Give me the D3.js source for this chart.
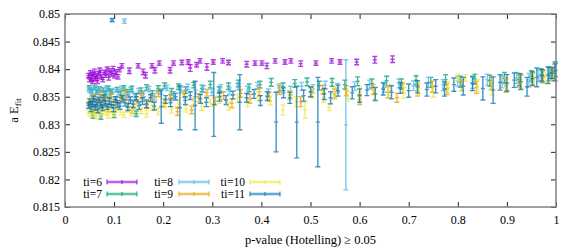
<!DOCTYPE html>
<html lang="en">
<head>
<meta charset="UTF-8">
<title>a E_fit vs p-value</title>
<script src="https://cdnjs.cloudflare.com/ajax/libs/d3/7.8.5/d3.min.js"></script>
<style>
  body { margin: 0; background: #fff; }
  svg text { font-family: "Liberation Serif", "DejaVu Serif", serif; }
</style>
</head>
<body>
<svg id="graph" width="575" height="250"></svg>
<script>
// ---- data: [p-value, a E_fit, error] ----
var seriesNames  = ["ti=6", "ti=7", "ti=8", "ti=9", "ti=10", "ti=11"];
var seriesColors = ["#9400d3", "#009e73", "#56b4e9", "#e69f00", "#f0e442", "#0072b2"];

var ti6 = [
  [0.048,0.8388,0.0004],[0.050,0.8381,0.0004],[0.052,0.8393,0.0004],[0.054,0.8384,0.0005],[0.056,0.8378,0.0004],
  [0.058,0.8390,0.0004],[0.060,0.8396,0.0004],[0.062,0.8383,0.0004],[0.064,0.8387,0.0004],[0.066,0.8379,0.0005],
  [0.069,0.8392,0.0004],[0.071,0.8398,0.0004],[0.074,0.8386,0.0004],[0.077,0.8381,0.0004],[0.080,0.8394,0.0004],
  [0.083,0.8389,0.0004],[0.086,0.8400,0.0004],[0.089,0.8385,0.0005],[0.092,0.8397,0.0004],[0.095,0.8391,0.0004],
  [0.098,0.8401,0.0004],[0.101,0.8388,0.0004],[0.104,0.8395,0.0004],[0.108,0.8386,0.0004],[0.111,0.8399,0.0004],
  [0.116,0.8406,0.0004],[0.131,0.8397,0.0005],[0.149,0.8406,0.0004],[0.159,0.8395,0.0005],[0.164,0.8389,0.0005],
  [0.177,0.8406,0.0004],[0.183,0.8398,0.0005],[0.192,0.8411,0.0004],[0.214,0.8398,0.0005],[0.221,0.8411,0.0004],
  [0.238,0.8412,0.0004],[0.251,0.8413,0.0004],[0.255,0.8402,0.0006],[0.268,0.8408,0.0004],[0.275,0.8415,0.0004],
  [0.289,0.8404,0.0006],[0.302,0.8413,0.0004],[0.321,0.8415,0.0004],[0.333,0.8412,0.0004],[0.370,0.8409,0.0005],
  [0.387,0.8411,0.0004],[0.401,0.8411,0.0004],[0.411,0.8406,0.0005],[0.428,0.8415,0.0004],[0.448,0.8413,0.0004],
  [0.460,0.8415,0.0004],[0.480,0.8410,0.0005],[0.511,0.8411,0.0004],[0.543,0.8415,0.0004],[0.560,0.8413,0.0004],
  [0.594,0.8413,0.0005],[0.631,0.8417,0.0006],[0.667,0.8418,0.0006]
];

var ti7 = [
  [0.049,0.8366,0.0004],[0.053,0.8361,0.0004],[0.057,0.8316,0.0005],[0.061,0.8367,0.0004],[0.065,0.8358,0.0004],
  [0.069,0.8364,0.0004],[0.073,0.8314,0.0005],[0.078,0.8362,0.0004],[0.083,0.8355,0.0005],[0.088,0.8365,0.0004],
  [0.094,0.8359,0.0004],[0.100,0.8317,0.0005],[0.106,0.8363,0.0004],[0.113,0.8354,0.0005],[0.120,0.8366,0.0004],
  [0.128,0.8358,0.0005],[0.136,0.8364,0.0005],[0.145,0.8319,0.0005],[0.155,0.8361,0.0005],[0.166,0.8367,0.0005],
  [0.178,0.8356,0.0005],[0.190,0.8365,0.0005],[0.203,0.8370,0.0005],[0.217,0.8359,0.0006],[0.231,0.8368,0.0005],
  [0.246,0.8362,0.0006],[0.262,0.8371,0.0005],[0.279,0.8365,0.0006],[0.296,0.8372,0.0006],[0.314,0.8362,0.0006],
  [0.333,0.8369,0.0006],[0.353,0.8374,0.0006],[0.375,0.8366,0.0007],[0.397,0.8372,0.0006],[0.420,0.8376,0.0007],
  [0.444,0.8368,0.0007],[0.468,0.8374,0.0007],[0.493,0.8377,0.0007],[0.518,0.8370,0.0008],[0.544,0.8376,0.0007],
  [0.570,0.8372,0.0008],[0.596,0.8378,0.0008],[0.625,0.8374,0.0008],[0.655,0.8379,0.0008],[0.685,0.8373,0.0009],
  [0.715,0.8380,0.0008],[0.745,0.8376,0.0009],[0.775,0.8381,0.0009],[0.805,0.8377,0.0010],[0.835,0.8382,0.0009],
  [0.865,0.8379,0.0010],[0.895,0.8384,0.0010],[0.925,0.8381,0.0011],[0.950,0.8387,0.0010],[0.970,0.8390,0.0011],
  [0.988,0.8393,0.0010],[0.999,0.8398,0.0012]
];

var ti8 = [
  [0.050,0.8362,0.0004],[0.054,0.8355,0.0004],[0.058,0.8366,0.0004],[0.062,0.8350,0.0005],[0.066,0.8359,0.0004],
  [0.071,0.8364,0.0004],[0.075,0.8348,0.0005],[0.080,0.8357,0.0004],[0.085,0.8366,0.0004],[0.091,0.8352,0.0005],
  [0.097,0.8361,0.0004],[0.103,0.8345,0.0005],[0.109,0.8358,0.0005],[0.115,0.8365,0.0004],[0.121,0.8487,0.0004],
  [0.127,0.8353,0.0005],[0.134,0.8362,0.0005],[0.142,0.8349,0.0005],[0.150,0.8360,0.0005],[0.160,0.8355,0.0005],
  [0.171,0.8364,0.0005],[0.183,0.8350,0.0006],[0.195,0.8359,0.0005],[0.208,0.8366,0.0005],[0.221,0.8353,0.0006],
  [0.236,0.8362,0.0005],[0.250,0.8368,0.0005],[0.266,0.8356,0.0006],[0.282,0.8364,0.0006],[0.299,0.8358,0.0006],
  [0.317,0.8366,0.0006],[0.335,0.8360,0.0006],[0.352,0.8368,0.0006],[0.372,0.8362,0.0007],[0.392,0.8370,0.0006],
  [0.414,0.8357,0.0007],[0.436,0.8366,0.0007],[0.459,0.8361,0.0008],[0.482,0.8369,0.0007],[0.505,0.8364,0.0008],
  [0.530,0.8371,0.0007],[0.555,0.8366,0.0008],[0.572,0.8299,0.0118],[0.590,0.8369,0.0008],[0.620,0.8372,0.0008],
  [0.650,0.8367,0.0009],[0.680,0.8374,0.0008],[0.710,0.8370,0.0009],[0.740,0.8376,0.0009],[0.770,0.8371,0.0010],
  [0.800,0.8378,0.0009],[0.830,0.8375,0.0010],[0.860,0.8381,0.0010],[0.890,0.8377,0.0011],[0.920,0.8384,0.0010],
  [0.945,0.8380,0.0012],[0.965,0.8388,0.0011],[0.985,0.8391,0.0012],[0.997,0.8399,0.0010]
];

var ti9 = [
  [0.049,0.8342,0.0005],[0.053,0.8335,0.0005],[0.057,0.8348,0.0005],[0.062,0.8330,0.0005],[0.067,0.8343,0.0005],
  [0.072,0.8353,0.0005],[0.077,0.8336,0.0005],[0.082,0.8346,0.0005],[0.088,0.8329,0.0006],[0.094,0.8350,0.0005],
  [0.100,0.8340,0.0005],[0.107,0.8333,0.0006],[0.114,0.8347,0.0005],[0.121,0.8355,0.0005],[0.129,0.8338,0.0006],
  [0.137,0.8326,0.0006],[0.146,0.8344,0.0006],[0.156,0.8352,0.0006],[0.167,0.8335,0.0006],[0.178,0.8346,0.0006],
  [0.190,0.8356,0.0006],[0.202,0.8339,0.0007],[0.215,0.8349,0.0006],[0.229,0.8323,0.0007],[0.243,0.8354,0.0006],
  [0.258,0.8326,0.0007],[0.273,0.8348,0.0007],[0.289,0.8357,0.0006],[0.306,0.8342,0.0007],[0.323,0.8352,0.0007],
  [0.340,0.8338,0.0008],[0.358,0.8356,0.0007],[0.377,0.8346,0.0008],[0.396,0.8359,0.0007],[0.416,0.8350,0.0008],
  [0.437,0.8362,0.0008],[0.458,0.8353,0.0008],[0.480,0.8341,0.0009],[0.502,0.8358,0.0008],[0.525,0.8363,0.0008],
  [0.549,0.8355,0.0009],[0.573,0.8361,0.0009],[0.600,0.8345,0.0009],[0.628,0.8363,0.0009],[0.658,0.8358,0.0010],
  [0.676,0.8348,0.0008],[0.688,0.8366,0.0009],[0.718,0.8361,0.0010],[0.748,0.8368,0.0010],[0.778,0.8364,0.0010],
  [0.808,0.8371,0.0010],[0.838,0.8367,0.0011],[0.868,0.8374,0.0011],[0.898,0.8370,0.0012],[0.926,0.8378,0.0011],
  [0.952,0.8382,0.0012],[0.974,0.8386,0.0011],[0.991,0.8391,0.0012]
];

var ti10 = [
  [0.048,0.8322,0.0004],[0.052,0.8318,0.0004],[0.056,0.8326,0.0004],[0.060,0.8320,0.0004],[0.064,0.8315,0.0005],
  [0.068,0.8324,0.0004],[0.073,0.8319,0.0004],[0.078,0.8328,0.0004],[0.083,0.8321,0.0004],[0.088,0.8316,0.0005],
  [0.094,0.8325,0.0004],[0.100,0.8320,0.0005],[0.106,0.8330,0.0004],[0.113,0.8322,0.0005],[0.120,0.8317,0.0005],
  [0.128,0.8327,0.0005],[0.136,0.8321,0.0005],[0.145,0.8332,0.0005],[0.155,0.8324,0.0005],[0.166,0.8319,0.0006],
  [0.178,0.8330,0.0005],[0.190,0.8323,0.0006],[0.203,0.8335,0.0005],[0.217,0.8326,0.0006],[0.231,0.8338,0.0006],
  [0.246,0.8328,0.0006],[0.262,0.8342,0.0006],[0.279,0.8332,0.0007],[0.296,0.8339,0.0007],[0.314,0.8345,0.0007],
  [0.333,0.8333,0.0007],[0.352,0.8347,0.0007],[0.372,0.8340,0.0008],[0.394,0.8350,0.0008],[0.418,0.8343,0.0008],
  [0.444,0.8326,0.0009],[0.459,0.8353,0.0008],[0.470,0.8341,0.0009],[0.489,0.8326,0.0015],[0.504,0.8356,0.0008],
  [0.527,0.8349,0.0009],[0.538,0.8331,0.0006],[0.551,0.8358,0.0009],[0.576,0.8351,0.0009],[0.600,0.8359,0.0009],
  [0.630,0.8354,0.0010],[0.660,0.8362,0.0010],[0.690,0.8357,0.0010],[0.720,0.8365,0.0010],[0.750,0.8360,0.0011],
  [0.780,0.8367,0.0010],[0.800,0.8385,0.0006],[0.815,0.8384,0.0006],[0.840,0.8370,0.0011],[0.870,0.8365,0.0012],
  [0.900,0.8373,0.0011],[0.930,0.8377,0.0012],[0.955,0.8381,0.0012],[0.978,0.8386,0.0012],[0.995,0.8390,0.0012]
];

var ti11 = [
  [0.048,0.8334,0.0005],[0.051,0.8341,0.0005],[0.053,0.8328,0.0005],[0.056,0.8337,0.0005],[0.058,0.8346,0.0005],
  [0.061,0.8331,0.0005],[0.064,0.8340,0.0005],[0.067,0.8327,0.0006],[0.070,0.8344,0.0005],[0.073,0.8335,0.0005],
  [0.076,0.8330,0.0005],[0.079,0.8348,0.0005],[0.082,0.8338,0.0005],[0.086,0.8332,0.0005],[0.090,0.8342,0.0006],
  [0.094,0.8336,0.0005],[0.096,0.8489,0.0003],[0.099,0.8329,0.0006],[0.103,0.8345,0.0005],[0.107,0.8337,0.0006],
  [0.112,0.8333,0.0006],[0.117,0.8347,0.0005],[0.122,0.8339,0.0006],[0.128,0.8331,0.0006],[0.133,0.8344,0.0006],
  [0.139,0.8336,0.0006],[0.145,0.8350,0.0006],[0.151,0.8334,0.0007],[0.158,0.8342,0.0006],[0.166,0.8337,0.0007],
  [0.174,0.8348,0.0006],[0.182,0.8333,0.0007],[0.196,0.8332,0.0030],[0.205,0.8345,0.0007],[0.215,0.8339,0.0007],
  [0.225,0.8350,0.0006],[0.234,0.8330,0.0040],[0.245,0.8343,0.0007],[0.255,0.8352,0.0007],[0.265,0.8334,0.0044],
  [0.276,0.8346,0.0008],[0.288,0.8340,0.0008],[0.303,0.8336,0.0058],[0.315,0.8350,0.0008],[0.328,0.8344,0.0008],
  [0.342,0.8353,0.0007],[0.356,0.8340,0.0050],[0.370,0.8348,0.0008],[0.385,0.8355,0.0008],[0.398,0.8343,0.0009],
  [0.412,0.8351,0.0008],[0.430,0.8304,0.0054],[0.445,0.8357,0.0009],[0.458,0.8348,0.0010],[0.472,0.8304,0.0065],
  [0.486,0.8352,0.0010],[0.500,0.8359,0.0009],[0.515,0.8304,0.0081],[0.528,0.8355,0.0010],[0.541,0.8348,0.0011],
  [0.556,0.8361,0.0010],[0.585,0.8357,0.0011],[0.600,0.8352,0.0012],[0.615,0.8362,0.0010],[0.632,0.8355,0.0012],
  [0.648,0.8364,0.0011],[0.665,0.8358,0.0012],[0.683,0.8366,0.0010],[0.700,0.8361,0.0012],[0.718,0.8368,0.0011],
  [0.737,0.8363,0.0012],[0.755,0.8369,0.0012],[0.773,0.8364,0.0013],[0.792,0.8372,0.0012],[0.811,0.8369,0.0016],
  [0.830,0.8374,0.0013],[0.851,0.8365,0.0021],[0.872,0.8362,0.0024],[0.886,0.8376,0.0014],[0.900,0.8375,0.0015],
  [0.915,0.8380,0.0013],[0.928,0.8377,0.0014],[0.941,0.8368,0.0017],[0.952,0.8383,0.0012],[0.961,0.8385,0.0017],
  [0.972,0.8388,0.0011],[0.984,0.8389,0.0015],[0.992,0.8393,0.0010],[0.998,0.8396,0.0017]
];

var seriesData = [ti6, ti7, ti8, ti9, ti10, ti11];

var xTicks = [0, 0.1, 0.2, 0.3, 0.4, 0.5, 0.6, 0.7, 0.8, 0.9, 1];
var yTicks = [0.815, 0.82, 0.825, 0.83, 0.835, 0.84, 0.845, 0.85];

// ---- layout ----
var margin = {top: 14, right: 19, bottom: 43, left: 65},
    width  = 575 - margin.left - margin.right,
    height = 250 - margin.top  - margin.bottom;

var serif = "'Liberation Serif', 'DejaVu Serif', serif";

var xScale = d3.scaleLinear().domain([0, 1]).range([0, width]);
var yScale = d3.scaleLinear().domain([0.815, 0.85]).range([height, 0]);

var svg = d3.select("#graph");
var g = svg.append("g").attr("transform", "translate(" + margin.left + "," + margin.top + ")");

var fmt = d => String(+d.toFixed(3));

// axes, ticks pointing inward on all four sides
var xAxis = d3.axisBottom(xScale).tickValues(xTicks).tickSize(-5).tickPadding(8).tickFormat(fmt);
var yAxis = d3.axisLeft(yScale).tickValues(yTicks).tickSize(-5).tickPadding(5).tickFormat(fmt);

function styleAxis(sel) {
  sel.attr("font-family", serif).attr("font-size", 12);
  sel.select(".domain").remove();
  sel.selectAll("line").attr("stroke", "#222");
  sel.selectAll("text").attr("fill", "#000");
}

g.append("g").attr("transform", "translate(0," + height + ")").call(xAxis).call(styleAxis);
g.append("g").call(yAxis).call(styleAxis);
g.append("g").call(d3.axisTop(xScale).tickValues(xTicks).tickSize(-5).tickFormat(""))
  .call(styleAxis);
g.append("g").attr("transform", "translate(" + width + ",0)")
  .call(d3.axisRight(yScale).tickValues(yTicks).tickSize(-5).tickFormat(""))
  .call(styleAxis);

// error bar points
var cap = 2.5, mark = 2;
function errPath(d) {
  var x = xScale(d[0]), yc = yScale(d[1]),
      ylo = yScale(d[1] - d[2]), yhi = yScale(d[1] + d[2]);
  return "M" + x + "," + ylo + "V" + yhi +
         "M" + (x - cap) + "," + ylo + "H" + (x + cap) +
         "M" + (x - cap) + "," + yhi + "H" + (x + cap) +
         "M" + (x - mark) + "," + yc + "H" + (x + mark);
}

seriesData.forEach(function(data, i) {
  g.append("g")
    .selectAll("path")
    .data(data)
    .enter()
    .append("path")
    .attr("d", errPath)
    .attr("fill", "none")
    .attr("stroke", seriesColors[i])
    .attr("stroke-width", 1.4)
    .attr("stroke-opacity", 0.75);
});

// border
g.append("rect")
  .attr("width", width).attr("height", height)
  .attr("fill", "none").attr("stroke", "#808080").attr("stroke-width", 1.5);

// legend: 2 rows x 3 columns
var legendCols = [{textX: 37, lineX: 42}, {textX: 108, lineX: 114}, {textX: 180, lineX: 185}];
var legendRows = [168, 180];
var sampleLen = 30;

seriesNames.forEach(function(name, i) {
  var col = legendCols[Math.floor(i / 2)], ry = legendRows[i % 2];
  var lg = g.append("g");
  lg.append("text")
    .attr("x", col.textX).attr("y", ry + 4)
    .attr("text-anchor", "end")
    .attr("font-family", serif)
    .attr("font-size", 11.5)
    .text(name);
  var x0 = col.lineX, x1 = col.lineX + sampleLen, xm = (x0 + x1) / 2;
  lg.append("path")
    .attr("d", "M" + x0 + "," + ry + "H" + x1)
    .attr("stroke", seriesColors[i]).attr("stroke-width", 3).attr("stroke-opacity", 0.35);
  lg.append("path")
    .attr("d", "M" + x0 + "," + ry + "H" + x1 +
               "M" + x0 + "," + (ry - 2.5) + "V" + (ry + 2.5) +
               "M" + x1 + "," + (ry - 2.5) + "V" + (ry + 2.5) +
               "M" + xm + "," + (ry - 2) + "V" + (ry + 2))
    .attr("fill", "none")
    .attr("stroke", seriesColors[i]).attr("stroke-width", 1.2).attr("stroke-opacity", 0.8);
});

// axis labels
svg.append("text")
  .attr("x", margin.left + width / 2).attr("y", 244)
  .attr("text-anchor", "middle")
  .attr("font-family", serif)
  .attr("font-size", 12.5)
  .text("p-value (Hotelling) \u2265 0.05");

var yl = svg.append("text")
  .attr("transform", "translate(18," + (margin.top + height / 2) + ") rotate(-90)")
  .attr("text-anchor", "middle")
  .attr("font-family", serif)
  .attr("font-size", 12.5);
yl.append("tspan").text("a E");
yl.append("tspan").attr("dy", "3").attr("font-size", 9).text("fit");
</script>
</body>
</html>
